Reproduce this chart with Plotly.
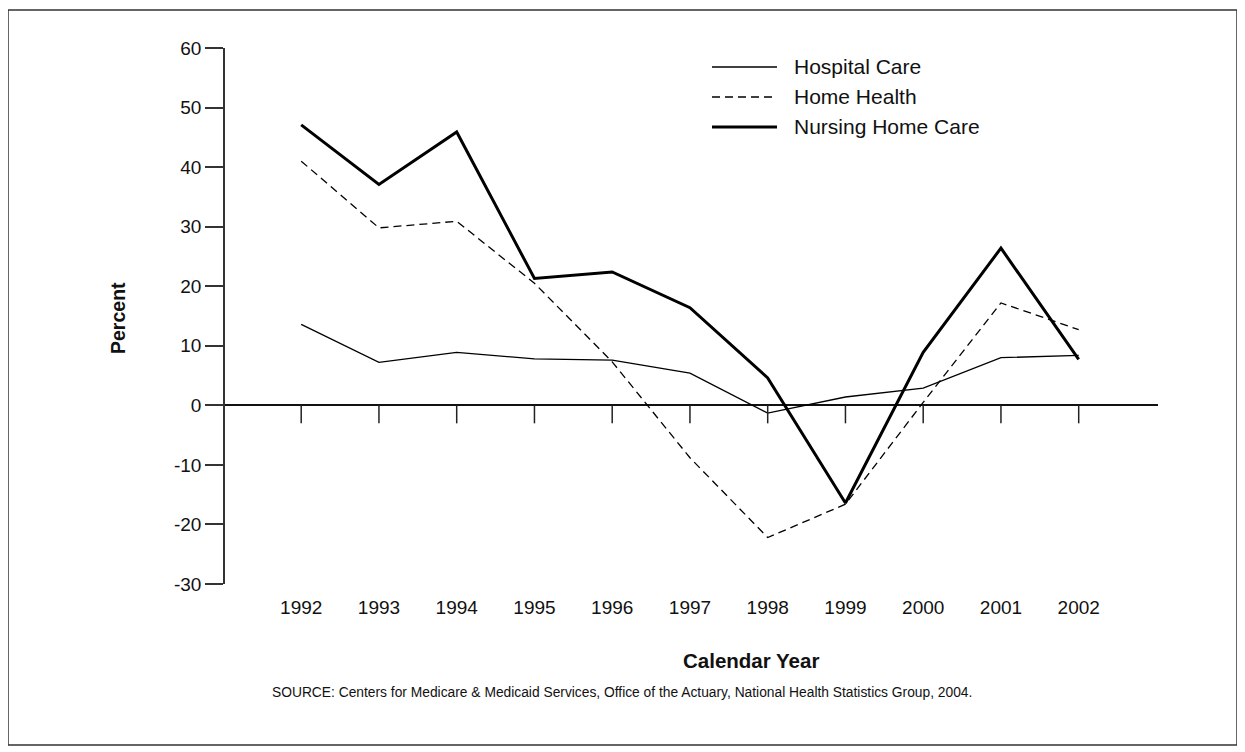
import plotly.graph_objects as go

# ---- data ----
years = [1992, 1993, 1994, 1995, 1996, 1997, 1998, 1999, 2000, 2001, 2002]
hospital_care = [13.6, 7.2, 8.9, 7.8, 7.6, 5.4, -1.3, 1.4, 2.9, 8.0, 8.4]
home_health = [41.0, 29.8, 30.9, 20.5, 7.3, -8.8, -22.2, -16.6, 0.5, 17.2, 12.7]
nursing_home_care = [47.1, 37.1, 45.9, 21.3, 22.4, 16.4, 4.6, -16.4, 8.9, 26.4, 7.7]
series_names = ["Hospital Care", "Home Health", "Nursing Home Care"]
y_ticks = [-30, -20, -10, 0, 10, 20, 30, 40, 50, 60]
y_tick_labels = ["-30", "-20", "-10", "0", "10", "20", "30", "40", "50", "60"]

# ---- layout geometry ----
# the page body adds an 8px offset; screen coordinates below are compensated
OFF = 8
W, H = 1245 - OFF, 752 - OFF
PLOT_L, PLOT_R, PLOT_T, PLOT_B = 225, 1158, 48, 584   # screen pixels
L, R, T, B = PLOT_L - OFF, W - (PLOT_R - OFF), PLOT_T - OFF, H - (PLOT_B - OFF)
PW, PH = W - L - R, H - T - B
FONT = "Liberation Sans, Arial, Helvetica, sans-serif"


def xp(sx):
    return (sx - PLOT_L) / PW


def yp(sy):
    return (PLOT_B - sy) / PH


styles = [
    dict(color="#000", width=1.3, dash="solid"),
    dict(color="#000", width=1.3, dash="8px,5px"),
    dict(color="#000", width=3, dash="solid"),
]
values = [hospital_care, home_health, nursing_home_care]

fig = go.Figure()
for name, vals, st in zip(series_names, values, styles):
    fig.add_trace(go.Scatter(x=years, y=vals, mode="lines", name=name,
                             line=st, showlegend=False))

shapes = []
# tick marks hanging from the zero line
for yr in years:
    shapes.append(dict(type="line", xref="x", yref="y", x0=yr, x1=yr,
                       y0=0, y1=-18 * 90 / PH, line=dict(color="#222", width=1.5)))
# outer border
shapes.append(dict(type="rect", xref="paper", yref="paper",
                   x0=xp(8), x1=xp(1237), y0=yp(745), y1=yp(10),
                   line=dict(color="#333", width=1.5)))

annotations = []
# custom legend
for i, (name, st) in enumerate(zip(series_names, styles)):
    ly = 67 + 30 * i
    shapes.append(dict(type="line", xref="paper", yref="paper",
                       x0=xp(712), x1=xp(777), y0=yp(ly), y1=yp(ly),
                       line=st))
    annotations.append(dict(text=name, xref="paper", yref="paper",
                            x=xp(792), y=yp(ly), xanchor="left", yanchor="middle",
                            showarrow=False, font=dict(size=21, color="#111")))

annotations += [
    dict(text="<b>Percent</b>", textangle=-90, xref="paper", yref="paper",
         x=xp(118), y=yp(318), xanchor="center", yanchor="middle",
         showarrow=False, font=dict(size=19.5, color="#111")),
    dict(text="<b>Calendar Year</b>", xref="paper", yref="paper",
         x=xp(751), y=yp(661), xanchor="center", yanchor="middle",
         showarrow=False, font=dict(size=20.5, color="#111")),
    dict(text="SOURCE: Centers for Medicare & Medicaid Services, Office of the Actuary, "
              "National Health Statistics Group, 2004.",
         xref="paper", yref="paper", x=xp(622), y=yp(692),
         xanchor="center", yanchor="middle", showarrow=False,
         font=dict(size=13.8, color="#111")),
]

fig.update_layout(
    width=W, height=H,
    margin=dict(l=L, r=R, t=T, b=B, autoexpand=False),
    paper_bgcolor="white", plot_bgcolor="white",
    font=dict(family=FONT, size=19, color="#111"),
    showlegend=False,
    shapes=shapes,
    annotations=annotations,
    xaxis=dict(range=[1991.02, 2003.02], tickvals=years, ticktext=[str(y) for y in years],
               showline=False, showgrid=False, zeroline=False, ticks="",
               ticklabelstandoff=10, tickfont=dict(size=19)),
    yaxis=dict(range=[-30, 60], tickvals=y_ticks, ticktext=y_tick_labels,
               showline=True, linecolor="#333",
               linewidth=1.5, ticks="outside", ticklen=18, tickwidth=1.5,
               tickcolor="#333", showgrid=False, zeroline=True, zerolinecolor="#111",
               zerolinewidth=1.5, tickfont=dict(size=19), ticklabelstandoff=0),
)

fig.write_html("out.html")
